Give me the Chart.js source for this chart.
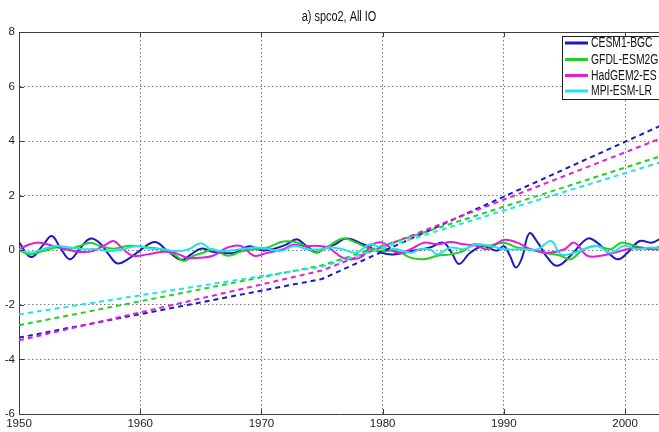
<!DOCTYPE html>
<html>
<head>
<meta charset="utf-8">
<script src="https://cdn.jsdelivr.net/npm/chart.js@4/dist/chart.umd.min.js"></script>
<style>
html,body{margin:0;padding:0;background:#fff;}
canvas{display:block;}
</style>
</head>
<body>
<canvas id="c" width="659" height="432"></canvas>
<script>
const FONT = '"Liberation Sans", Arial, sans-serif';

const titleText = 'a) spco2, All IO';
const modelNames = ['CESM1-BGC', 'GFDL-ESM2G', 'HadGEM2-ES', 'MPI-ESM-LR'];
const modelColors = ['#1a1ac0', '#22d022', '#e020d8', '#20e4ec'];

const yTicks = [-6, -4, -2, 0, 2, 4, 6, 8];
const xTicks = [1950, 1960, 1970, 1980, 1990, 2000];

// Detrended anomalies (solid lines)
const cesmYears = [1950,1951,1952,1952.7,1953.4,1954.2,1955,1955.9,1956.7,1957.4,1958.1,1958.9,1960,1961.2,1962.2,1963.4,1964.2,1965,1966,1967.7,1969,1970,1971,1972,1972.9,1973.6,1974.6,1975.2,1976,1977,1978.4,1980,1980.9,1982.5,1983.9,1985,1985.7,1986.3,1987.2,1988.3,1989.4,1990,1990.5,1991,1991.5,1992.1,1992.8,1993.6,1994.4,1995.5,1996.9,1997.7,1998.6,1999.4,2000.2,2001.2,2002.2,2003];
const cesmVals  = [0.3,-0.25,0.2,0.52,0.1,-0.33,0.05,0.43,0.25,-0.15,-0.48,-0.35,0.0,0.3,0.0,-0.35,-0.15,0.06,-0.05,-0.1,0.15,0.0,0.05,0.2,0.4,0.2,-0.08,0.1,0.2,0.43,0.22,-0.1,-0.15,-0.02,0.1,0.28,-0.1,-0.5,-0.1,0.15,-0.02,0.15,-0.2,-0.63,-0.27,0.62,0.28,-0.27,-0.57,-0.2,0.43,0.28,-0.09,-0.33,-0.09,0.34,0.28,0.45];

const gfdlYears = [1950,1950.9,1952,1953.1,1954,1955,1955.9,1956.7,1957.8,1958.9,1959.7,1960.6,1961.7,1962.8,1963.6,1964.4,1965.2,1966,1967.2,1968.3,1969.4,1970.5,1971.8,1973.2,1974.4,1975.2,1976.7,1977.8,1979,1980,1981.2,1982.3,1983.4,1984.5,1985.6,1986.7,1987.5,1988.6,1990,1991.1,1992.2,1993.3,1994.7,1995.5,1996.6,1997.7,1998.8,1999.7,2000.8,2002,2003];
const gfdlVals  = [0.0,-0.15,-0.03,0.1,0.04,0.16,0.28,0.16,0.06,0.16,0.16,0.1,0.04,-0.15,-0.39,-0.2,-0.09,0.04,-0.2,-0.05,0.04,0.1,0.32,0.25,-0.08,0.05,0.43,0.28,0.04,-0.03,-0.03,-0.27,-0.33,-0.2,-0.15,-0.02,0.22,0.16,0.28,0.1,0.04,-0.09,-0.2,-0.33,0.04,0.16,0.04,0.28,0.16,0.04,0.16];

const hadYears = [1950,1950.9,1951.7,1952.8,1953.9,1955,1956.1,1957.2,1957.8,1958.6,1959.4,1960.6,1961.7,1962.8,1963.9,1965,1966,1967.2,1968.3,1969.4,1970.5,1971.8,1972.6,1973.5,1974.6,1975.5,1976.7,1977.5,1978.4,1979,1980,1981.2,1982.3,1983.4,1984.5,1985.6,1986.7,1987.8,1988.6,1990,1991.1,1992.2,1993.6,1995,1995.8,1996.9,1998,1999.1,2000.2,2001.3,2002.2,2003];
const hadVals  = [0.04,0.22,0.28,0.16,0.04,-0.06,-0.03,0.22,0.34,0.04,-0.2,-0.15,-0.06,-0.09,-0.27,-0.27,-0.2,0.1,0.16,-0.2,-0.09,0.04,0.2,0.15,0.16,0.1,-0.27,-0.33,-0.2,0.16,0.28,-0.09,0.04,0.28,0.22,0.3,0.22,0.16,0.04,0.38,0.28,0.04,-0.09,0.04,0.28,-0.2,-0.2,-0.09,0.04,0.1,0.04,0.04];

const mpiYears = [1950,1950.9,1952,1953.1,1954.2,1955.3,1956.4,1957.5,1958.6,1959.7,1960.8,1961.9,1963,1964,1965,1965.8,1966.9,1968.3,1969.4,1970.5,1971.6,1972.7,1973.8,1974.9,1975.6,1976.7,1977.8,1979,1980,1981.2,1982.3,1983.1,1983.9,1984.5,1985.6,1986.7,1987.8,1988.9,1990,1991.5,1992.8,1993.9,1994.7,1995.8,1996.6,1997.7,1998.8,1999.9,2001,2002,2003];
const mpiVals  = [0.04,-0.09,0.04,0.16,0.1,0.04,0.04,-0.03,0.04,0.16,0.06,0.04,-0.03,0.04,0.26,0.04,-0.03,0.04,0.1,0.06,-0.03,0.16,0.04,0.04,0.1,0.04,-0.09,0.22,0.06,0.04,-0.09,0.04,0.04,-0.15,0.1,0.04,0.22,0.16,0.04,0.04,0.04,0.34,-0.15,-0.09,0.04,0.16,-0.09,0.16,0.04,0.1,0.06];

// Trend lines (dashed)
const trendYears = [1950, 1975, 2003];
const cesmTrend = [-3.2, -1.05, 4.58];
const gfdlTrend = [-2.75, -0.55, 3.46];
const hadTrend  = [-3.3, -0.74, 4.11];
const mpiTrend  = [-2.35, -0.6, 3.24];

const solidSets = [[cesmYears, cesmVals],[gfdlYears, gfdlVals],[hadYears, hadVals],[mpiYears, mpiVals]];
const trendSets = [cesmTrend, gfdlTrend, hadTrend, mpiTrend];

const toXY = (xs, ys) => xs.map((x, i) => ({x: x, y: ys[i]}));

const datasets = [];
solidSets.forEach((s, i) => {
  datasets.push({
    label: modelNames[i], data: toXY(s[0], s[1]),
    borderColor: modelColors[i], borderWidth: 2, pointRadius: 0,
    tension: 0.4, fill: false, isLegend: true, order: 20 - i
  });
});
trendSets.forEach((t, i) => {
  datasets.push({
    label: modelNames[i] + ' trend', data: toXY(trendYears, t),
    borderColor: modelColors[i], borderWidth: 2, borderDash: [5, 4],
    pointRadius: 0, tension: 0, fill: false, isLegend: false, order: 10 - i
  });
});

function squeezeText(ctx, text, x, y, factor) {
  const w = ctx.measureText(text).width;
  ctx.fillText(text, x, y, w * factor);
}

const framePlugin = {
  id: 'frame',
  afterDraw(chart) {
    const {ctx, chartArea: a, scales: {x, y}} = chart;
    ctx.save();
    ctx.strokeStyle = '#404040';
    ctx.lineWidth = 1;
    ctx.setLineDash([]);
    ctx.beginPath();
    ctx.moveTo(a.left, a.top + 0.5); ctx.lineTo(a.right, a.top + 0.5);
    xTicks.forEach(v => {
      const px = Math.round(x.getPixelForValue(v)) + 0.5;
      ctx.moveTo(px, a.bottom); ctx.lineTo(px, a.bottom - 5);
      ctx.moveTo(px, a.top); ctx.lineTo(px, a.top + 5);
    });
    yTicks.forEach(v => {
      const py = Math.round(y.getPixelForValue(v)) + 0.5;
      ctx.moveTo(a.left, py); ctx.lineTo(a.left + 5, py);
    });
    ctx.stroke();

    // title
    ctx.fillStyle = '#111';
    ctx.font = '14px ' + FONT;
    ctx.textAlign = 'center';
    ctx.textBaseline = 'middle';
    squeezeText(ctx, titleText, (a.left + a.right) / 2, 17, 0.78);

    // legend box
    const bx = 562, by = 36, bw = 110, bh = 63;
    ctx.fillStyle = '#fff';
    ctx.fillRect(bx, by, bw, bh);
    ctx.strokeStyle = '#202020';
    ctx.strokeRect(bx + 0.5, by + 0.5, bw, bh);
    const rows = [43, 59.5, 75.5, 91];
    ctx.font = '14px ' + FONT;
    ctx.textBaseline = 'middle';
    ctx.textAlign = 'left';
    chart.data.datasets.filter(d => d.isLegend).forEach((d, i) => {
      ctx.strokeStyle = d.borderColor;
      ctx.lineWidth = 3;
      ctx.beginPath();
      ctx.moveTo(565, rows[i]); ctx.lineTo(588, rows[i]);
      ctx.stroke();
      ctx.fillStyle = '#111';
      squeezeText(ctx, d.label, 591, rows[i] + 0.5, 0.74);
    });
    ctx.restore();
  }
};

new Chart(document.getElementById('c'), {
  type: 'line',
  data: {datasets: datasets},
  plugins: [framePlugin],
  options: {
    responsive: false,
    animation: false,
    layout: {padding: {left: 0, right: 0, top: 32, bottom: 0}, autoPadding: false},
    plugins: {
      legend: {display: false},
      tooltip: {enabled: false},
      title: {display: false}
    },
    scales: {
      x: {
        type: 'linear', min: 1950, max: 2002.8,
        afterFit: s => { s.height = 18; },
        afterBuildTicks: s => { s.ticks = xTicks.map(v => ({value: v})); },
        ticks: {color: '#222', padding: 3, font: {family: FONT, size: 11.5}, maxRotation: 0,
                callback: v => String(v)},
        grid: {color: '#777', lineWidth: 1, drawTicks: false},
        border: {display: true, color: '#404040', width: 1, dash: [1.5, 2.5]}
      },
      y: {
        type: 'linear', min: -6, max: 8,
        afterFit: s => { s.width = 19; },
        afterBuildTicks: s => { s.ticks = yTicks.map(v => ({value: v})); },
        ticks: {color: '#222', padding: 4, font: {family: FONT, size: 11.5},
                callback: v => String(v)},
        grid: {color: '#777', lineWidth: 1, drawTicks: false},
        border: {display: true, color: '#404040', width: 1, dash: [1.5, 2.5]}
      }
    }
  }
});
</script>
</body>
</html>
